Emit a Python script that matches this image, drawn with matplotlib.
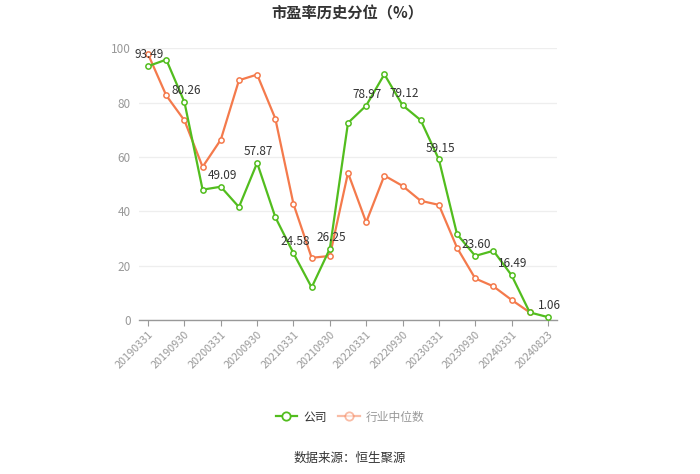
import numpy as np
import matplotlib
matplotlib.use("Agg")
import matplotlib.pyplot as plt
from matplotlib.lines import Line2D

plt.rcParams['font.family'] = ['Noto Sans CJK SC', 'DejaVu Sans']

dates = ['20190331', '20190630', '20190930', '20191231', '20200331', '20200630',
         '20200930', '20201231', '20210331', '20210630', '20210930', '20211231',
         '20220331', '20220630', '20220930', '20221231', '20230331', '20230630',
         '20230930', '20231231', '20240331', '20240630', '20240823']
company = [93.49, 95.9, 80.26, 48.0, 49.09, 41.6, 57.87, 37.9, 24.58, 12.0,
           26.25, 72.6, 78.97, 90.5, 79.12, 73.6, 59.15, 31.6, 23.60, 25.5,
           16.49, 2.8, 1.06]
industry = [97.9, 82.7, 73.5, 56.4, 66.4, 88.3, 90.4, 74.2, 42.7, 22.9,
            23.6, 54.2, 36.0, 53.2, 49.4, 43.9, 42.4, 26.6, 15.3, 12.4,
            7.4, 2.8, np.nan]

green = '#52bd1e'
orange = '#f47a4c'

fig = plt.figure(figsize=(7, 4.74), dpi=100)
ax = fig.add_axes([139 / 700, 1 - 320 / 474, 418 / 700, (320 - 48.5) / 474])

x = np.arange(len(dates))
ax.plot(x, company, color=green, lw=1.6, marker='o', ms=3.8, mfc='white',
        mec=green, mew=1.1, zorder=4, clip_on=False)
ax.plot(x, industry, color=orange, lw=1.6, marker='o', ms=3.8, mfc='white',
        mec=orange, mew=1.1, zorder=3, clip_on=False)

# every other point gets a value label and a tick label
label_idx = list(range(0, 22, 2)) + [22]
for i in label_idx:
    ax.annotate(f'{company[i]:.2f}', (x[i], company[i]), xytext=(1, 3.5),
                textcoords='offset points', ha='center', va='bottom',
                fontsize=8.5, color='#333333', zorder=5)

ax.set_xlim(-0.5, len(dates) - 0.5)
ax.set_ylim(0, 100)
ax.set_yticks([0, 20, 40, 60, 80, 100])
ax.set_xticks(label_idx)
ax.set_xticklabels([dates[i] for i in label_idx], rotation=45, ha='right',
                   rotation_mode='anchor', fontsize=7.8, color='#999999')
ax.tick_params(axis='x', length=4, color='#999999', pad=3)
ax.tick_params(axis='y', length=0, labelsize=8.5, labelcolor='#999999', pad=6)
ax.grid(axis='y', color='#eeeeee', lw=0.9)
ax.set_axisbelow(True)
for s in ['top', 'right', 'left']:
    ax.spines[s].set_visible(False)
ax.spines['bottom'].set_color('#999999')
ax.spines['bottom'].set_linewidth(1)

fig.text(0.496, 1 - 13 / 474, '市盈率历史分位（%）', ha='center', va='center',
         fontsize=11, fontweight='bold', color='#333333')

handles = [
    Line2D([], [], color=green, lw=1.6, marker='o', ms=6, mfc='white', mec=green, mew=1.3),
    Line2D([], [], color=orange, lw=1.6, marker='o', ms=6, mfc='white', mec=orange,
           mew=1.3, alpha=0.5),
]
leg = fig.legend(handles, ['公司', '行业中位数'], loc='center',
                 bbox_to_anchor=(0.5, 1 - 417 / 474), ncol=2, frameon=False,
                 fontsize=8.5, handlelength=1.8, columnspacing=1.0, handletextpad=0.5)
leg.get_texts()[0].set_color('#333333')
leg.get_texts()[1].set_color('#999999')

fig.text(0.5, 1 - 458 / 474, '数据来源：恒生聚源', ha='center', va='center',
         fontsize=9, color='#333333')

fig.savefig('out.png', dpi=100)
